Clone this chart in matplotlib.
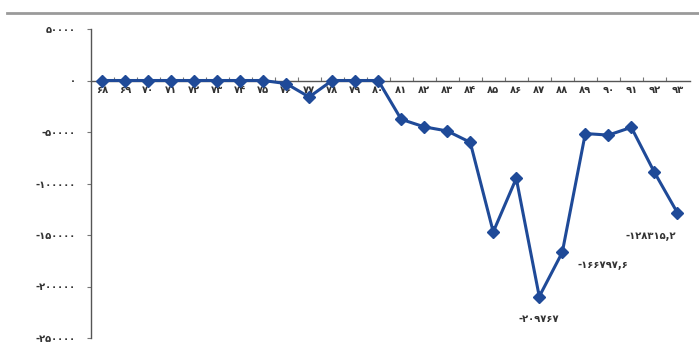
import matplotlib
matplotlib.use("Agg")
import matplotlib.pyplot as plt
from matplotlib.lines import Line2D
from matplotlib.ticker import FixedLocator

years = list(range(68, 94))
values = [0, 0, 0, 0, 0, 0, 0, 0, -3000, -16000, 0, 0, 0,
          -37700, -45000, -49000, -60000, -147000, -95000, -209767,
          -166797.6, -51500, -53000, -45500, -89000, -128315.2]
y_ticks = [50000, 0, -50000, -100000, -150000, -200000, -250000]
labelled = {87: "-۲۰۹۷۶۷", 88: "-۱۶۶۷۹۷,۶", 93: "-۱۲۸۳۱۵,۲"}

FA = str.maketrans("0123456789", "۰۱۲۳۴۵۶۷۸۹")


def fa(n):
    return str(n).translate(FA)


color = "#1f4a98"
txt_kw = dict(fontsize=7.2, color="#333333", family="DejaVu Sans",
              fontweight="bold")

fig = plt.figure(figsize=(6.99, 3.44), dpi=100)
ax = fig.add_axes([91 / 699, 1 - 338 / 344, 599 / 699, 309 / 344])

ax.plot(years, values, color=color, lw=2.2, marker="D", ms=5.8,
        markerfacecolor=color, markeredgecolor=color, zorder=3)

ax.set_xlim(67.52, 93.55)
ax.set_ylim(-250000, 50000)

ax.spines["top"].set_visible(False)
ax.spines["right"].set_visible(False)
ax.spines["bottom"].set_position(("data", 0))
for s in ("bottom", "left"):
    ax.spines[s].set_color("#555555")
    ax.spines[s].set_linewidth(1.0)

ax.set_yticks(y_ticks)
ax.set_yticklabels([("-" + fa(-v)) if v < 0 else fa(v) for v in y_ticks],
                   **txt_kw)
ax.tick_params(axis="y", length=3, width=0.8, color="#777777", pad=8)

ax.set_xticks(years)
ax.set_xticklabels([fa(y) for y in years], **txt_kw)
ax.tick_params(axis="x", length=0, pad=3)
ax.xaxis.set_minor_locator(FixedLocator([y + 0.5 for y in years[:-1]]))
ax.tick_params(axis="x", which="minor", length=3, width=0.8,
               color="#777777", direction="in")

offsets = {87: ((0, -16), "center"), 88: ((11, -9), "left"),
           93: ((-37, -17), "left")}
for yr, txt in labelled.items():
    v = values[years.index(yr)]
    off, ha = offsets[yr]
    ax.annotate(txt, (yr, v), xytext=off, textcoords="offset points",
                ha=ha, va="center", **txt_kw)

fig.add_artist(Line2D([7 / 699, 1.0], [1 - 13 / 344, 1 - 13 / 344],
                      color="#9a9a9a", lw=2, transform=fig.transFigure))

fig.savefig("out.png", dpi=100)
